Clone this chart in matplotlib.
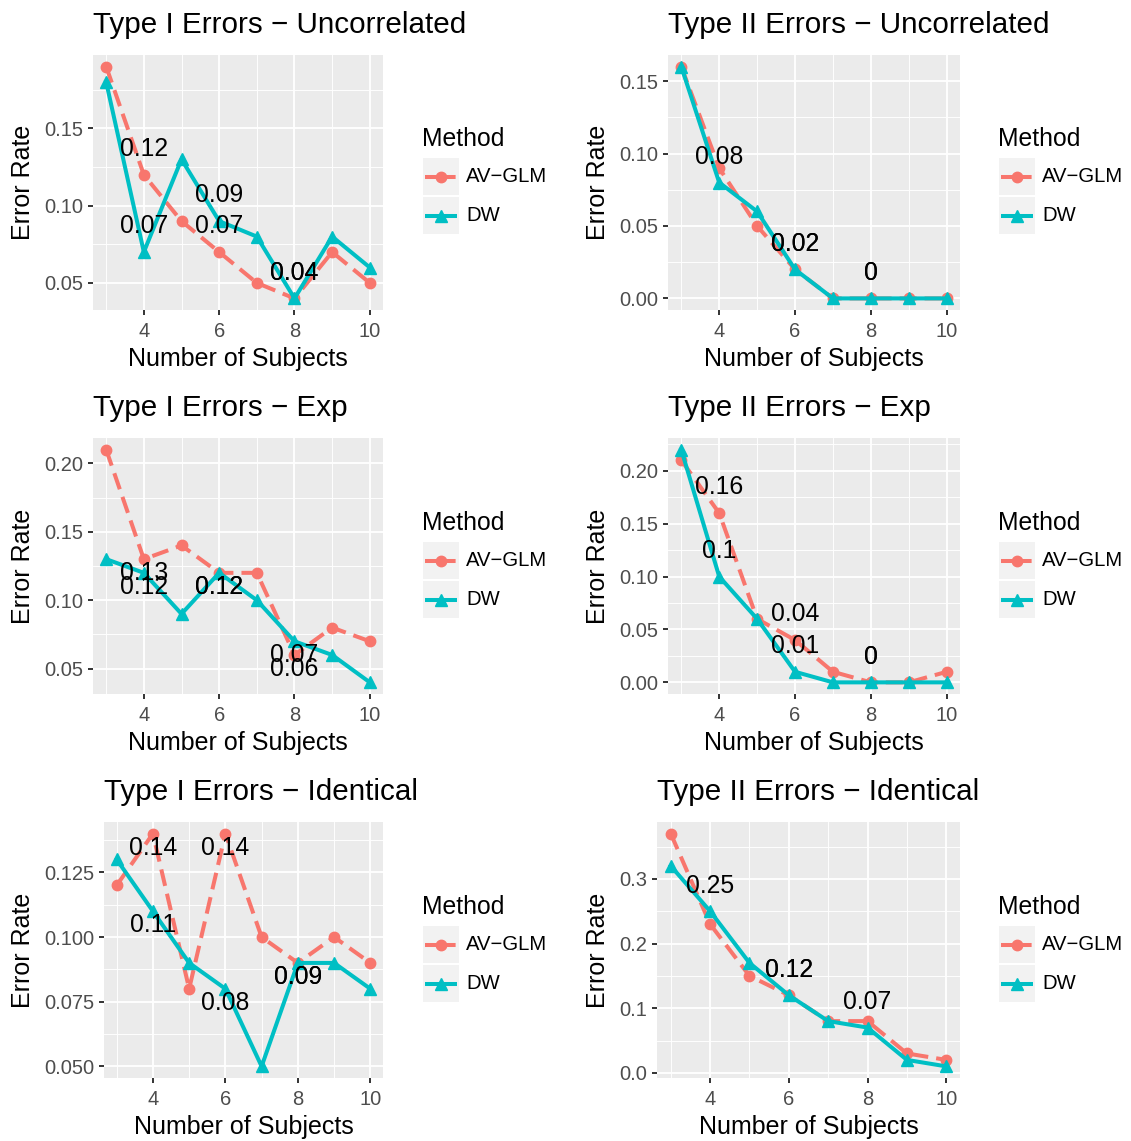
import matplotlib
matplotlib.use("Agg")
import matplotlib.pyplot as plt
from matplotlib.lines import Line2D
from matplotlib.patches import Rectangle

plt.rcParams['font.family'] = ['Liberation Sans', 'DejaVu Sans']

# number of subjects on the x axis
subjects = [3, 4, 5, 6, 7, 8, 9, 10]

titles = [
    "Type I Errors \u2212 Uncorrelated", "Type II Errors \u2212 Uncorrelated",
    "Type I Errors \u2212 Exp", "Type II Errors \u2212 Exp",
    "Type I Errors \u2212 Identical", "Type II Errors \u2212 Identical",
]

av_glm = [
    [0.19, 0.12, 0.09, 0.07, 0.05, 0.04, 0.07, 0.05],
    [0.16, 0.09, 0.05, 0.02, 0.00, 0.00, 0.00, 0.00],
    [0.21, 0.13, 0.14, 0.12, 0.12, 0.06, 0.08, 0.07],
    [0.21, 0.16, 0.06, 0.04, 0.01, 0.00, 0.00, 0.01],
    [0.12, 0.14, 0.08, 0.14, 0.10, 0.09, 0.10, 0.09],
    [0.37, 0.23, 0.15, 0.12, 0.08, 0.08, 0.03, 0.02],
]
dw = [
    [0.18, 0.07, 0.13, 0.09, 0.08, 0.04, 0.08, 0.06],
    [0.16, 0.08, 0.06, 0.02, 0.00, 0.00, 0.00, 0.00],
    [0.13, 0.12, 0.09, 0.12, 0.10, 0.07, 0.06, 0.04],
    [0.22, 0.10, 0.06, 0.01, 0.00, 0.00, 0.00, 0.00],
    [0.13, 0.11, 0.09, 0.08, 0.05, 0.09, 0.09, 0.08],
    [0.32, 0.25, 0.17, 0.12, 0.08, 0.07, 0.02, 0.01],
]

# which subject counts get a value label
av_labelled = [[4, 6, 8], [6, 8], [4, 6, 8], [4, 6, 8], [4, 6, 8], [6]]
dw_labelled = [[4, 6, 8], [4, 6, 8], [4, 6, 8], [4, 6, 8], [4, 6, 8], [4, 6, 8]]
label_above = [True, True, False, True, False, True]

yticks = [
    [0.05, 0.10, 0.15],
    [0.00, 0.05, 0.10, 0.15],
    [0.05, 0.10, 0.15, 0.20],
    [0.00, 0.05, 0.10, 0.15, 0.20],
    [0.050, 0.075, 0.100, 0.125],
    [0.0, 0.1, 0.2, 0.3],
]
ytick_labels = [
    ["0.05", "0.10", "0.15"],
    ["0.00", "0.05", "0.10", "0.15"],
    ["0.05", "0.10", "0.15", "0.20"],
    ["0.00", "0.05", "0.10", "0.15", "0.20"],
    ["0.050", "0.075", "0.100", "0.125"],
    ["0.0", "0.1", "0.2", "0.3"],
]
xticks = [4, 6, 8, 10]
methods = ["AV\u2212GLM", "DW"]

RED = "#F8766D"
CYAN = "#00BFC4"
LW = 2.9
DASH = (4.2, 2.0)
W, H = 1131, 1141

# panel boxes in pixels: left, right, top, bottom
boxes = [
    (93, 383, 55, 310), (668, 960, 55, 310),
    (93, 383, 438, 694), (668, 960, 438, 694),
    (104, 383, 822, 1078), (657, 960, 822, 1078),
]
legend_origin = [(422, 139), (998, 139), (422, 523), (998, 523), (422, 907), (998, 907)]

fig = plt.figure(figsize=(W / 100, H / 100), dpi=100)


def fx(x):
    return x / W


def fy(y):
    return 1 - y / H


def draw_legend(x0, y0):
    fig.text(fx(x0), fy(y0), "Method", fontsize=17.8, ha="left", va="center")
    for i, (name, col) in enumerate(zip(methods, [RED, CYAN])):
        top = y0 + 19 + i * 39
        fig.add_artist(Rectangle((fx(x0 + 1), fy(top + 37)), 36 / W, 37 / H,
                                 transform=fig.transFigure, facecolor="#F2F2F2",
                                 edgecolor="none"))
        cy = top + 18.5
        ln = Line2D([fx(x0 + 3), fx(x0 + 35)], [fy(cy), fy(cy)], transform=fig.transFigure,
                    color=col, lw=LW, solid_capstyle="butt")
        if i == 0:
            ln.set_dashes((3.0, 1.6))
            ln.set_dash_capstyle("butt")
        fig.add_artist(ln)
        fig.add_artist(Line2D([fx(x0 + 19)], [fy(cy)], transform=fig.transFigure,
                              marker="o" if i == 0 else "^", color=col,
                              markersize=7.5 if i == 0 else 9, lw=0))
        fig.text(fx(x0 + 44), fy(cy), name, fontsize=14.6, ha="left", va="center")


for k in range(6):
    l, r, t, b = boxes[k]
    ax = fig.add_axes([fx(l), fy(b), (r - l) / W, (b - t) / H])
    ax.set_facecolor("#EBEBEB")
    for s in ax.spines.values():
        s.set_visible(False)

    ax.plot(subjects, av_glm[k], color=RED, lw=LW, dashes=DASH,
            dash_capstyle="butt", marker="o", markersize=7.5, zorder=3)
    ax.plot(subjects, dw[k], color=CYAN, lw=LW, marker="^", markersize=9,
            solid_joinstyle="miter", zorder=4)

    off = 18.5 if label_above[k] else -10
    for series, picks in ((av_glm[k], av_labelled[k]), (dw[k], dw_labelled[k])):
        for xv in picks:
            v = series[subjects.index(xv)]
            ax.annotate(f"{v:g}", (xv, v), xytext=(0, off), textcoords="offset points",
                        ha="center", va="center", fontsize=17.8, color="black", zorder=5)

    ax.margins(x=0.05, y=0.05)
    lo, hi = ax.get_ylim()
    ys = yticks[k]
    step = ys[1] - ys[0]
    minor_y = [v - step / 2 for v in ys] + [ys[-1] + step / 2]
    minor_y = [v for v in minor_y if lo < v < hi]
    ax.set_yticks(ys)
    ax.set_yticklabels(ytick_labels[k])
    ax.set_yticks(minor_y, minor=True)
    ax.set_xticks(xticks)
    ax.set_xticks([3, 5, 7, 9], minor=True)
    ax.grid(which="major", color="white", lw=1.3)
    ax.grid(which="minor", color="white", lw=0.65)
    ax.set_axisbelow(True)
    ax.tick_params(which="major", length=3.8, width=1.4, color="#333333",
                   labelsize=14.5, labelcolor="#4D4D4D", pad=3)
    ax.tick_params(axis="x", which="major", pad=5)
    ax.tick_params(which="minor", length=0)

    ax.set_xlabel("Number of Subjects", fontsize=18, labelpad=4)
    ax.set_ylabel("Error Rate", fontsize=18, labelpad=7)
    ax.set_title(titles[k], loc="left", fontsize=21.3, pad=15.5)

    draw_legend(*legend_origin[k])

fig.savefig("out.png", dpi=100)
